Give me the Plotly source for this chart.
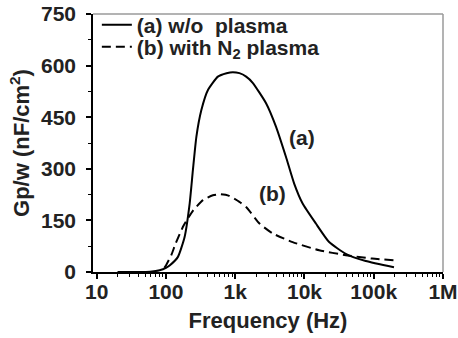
import plotly.graph_objects as go

# ---- data ----
freq_a = [20, 40, 59, 81, 100, 113, 149, 186, 220, 245, 275, 324, 404, 562, 750, 925, 1150,
          1440, 1790, 2800, 3890, 5400, 7100, 9400, 14600, 22700, 39500, 76700, 196000]
gp_a = [0, 0, 1, 5, 12, 19, 44, 102, 199, 296, 393, 470, 529, 568, 578, 581, 578,
        568, 550, 490, 422, 335, 257, 199, 141, 87, 53, 32, 14]

freq_b = [95, 100, 120, 138, 180, 245, 342, 476, 600, 800, 1150, 1440, 2240, 3480,
          6750, 16300, 39500, 95000, 196000]
gp_b = [12, 19, 50, 83, 135, 178, 209, 223, 226, 222, 204, 189, 141, 112,
        87, 63, 49, 39, 34]

x_tickvals = [10, 100, 1000, 10000, 100000, 1000000]
x_ticktext = ["10", "100", "1k", "10k", "100k", "1M"]
y_tickvals = [0, 150, 300, 450, 600, 750]

name_a = "(a) w/o  plasma"
name_b = "(b) with N<sub>2</sub> plasma"

minor_x = [m * 10 ** e for e in range(1, 6) for m in range(2, 10)]

FONT = "Liberation Sans, Arial, sans-serif"
TICK = 21

fig = go.Figure()
fig.add_trace(go.Scatter(x=freq_a, y=gp_a, mode="lines", name=name_a, legend="legend",
                         line=dict(color="black", width=2, shape="spline", smoothing=0.5)))
fig.add_trace(go.Scatter(x=freq_b, y=gp_b, mode="lines", name=name_b, legend="legend2",
                         line=dict(color="black", width=2, dash="9px,5px", shape="spline", smoothing=0.5)))

leg_common = dict(xanchor="left", yanchor="middle", bgcolor="rgba(0,0,0,0)",
                  font=dict(size=21, weight="bold", color="#222"), itemwidth=30)

fig.update_layout(
    width=458, height=338,
    margin=dict(l=93, r=15, t=14, b=66, autoexpand=False),
    paper_bgcolor="white", plot_bgcolor="white",
    font=dict(family=FONT, size=TICK, color="#222", weight="bold"),
    showlegend=True,
    legend=dict(x=0.011, y=0.957, **leg_common),
    legend2=dict(x=0.011, y=0.872, **leg_common),
    xaxis=dict(type="log", range=[0.947, 6.0], tickvals=x_tickvals, ticktext=x_ticktext,
               ticks="outside", ticklen=5, tickwidth=1.5, tickcolor="black",
               showline=True, linecolor="black", linewidth=1.5, showgrid=False, zeroline=False,
               automargin=False, ticklabeloverflow="allow", ticklabelstandoff=-5,
               minor=dict(tickvals=minor_x, ticks="outside", ticklen=3, tickcolor="black", tickwidth=1),
               title=dict(text="Frequency (Hz)", font=dict(size=22, weight="bold"), standoff=11),
               tickfont=dict(size=TICK, weight="bold")),
    yaxis=dict(range=[0, 750], tickvals=y_tickvals,
               ticks="outside", ticklen=5, tickwidth=1.5, tickcolor="black",
               showline=True, linecolor="black", linewidth=1.5, showgrid=False, zeroline=False,
               automargin=False, ticklabeloverflow="allow", ticklabelstandoff=6,
               minor=dict(dtick=75, ticks="outside", ticklen=3, tickcolor="black", tickwidth=1),
               title=dict(text="Gp/w (nF/cm<sup>2</sup>)", font=dict(size=22, weight="bold"), standoff=5),
               tickfont=dict(size=TICK, weight="bold")),
)

# gray top and right frame
fig.add_shape(type="line", xref="paper", yref="paper", x0=0, x1=1, y0=1, y1=1,
              line=dict(color="#9a9a9a", width=1.5))
fig.add_shape(type="line", xref="paper", yref="paper", x0=1, x1=1, y0=0, y1=1,
              line=dict(color="#9a9a9a", width=1.5))

fig.add_annotation(text="(a)", xref="paper", yref="paper", x=0.597, y=0.523,
                   showarrow=False, font=dict(size=21, weight="bold"))
fig.add_annotation(text="(b)", xref="paper", yref="paper", x=0.514, y=0.252,
                   showarrow=False, font=dict(size=21, weight="bold"))

fig.write_html("out.html", config={"displayModeBar": False},
               post_script="document.body.style.margin='0';")
